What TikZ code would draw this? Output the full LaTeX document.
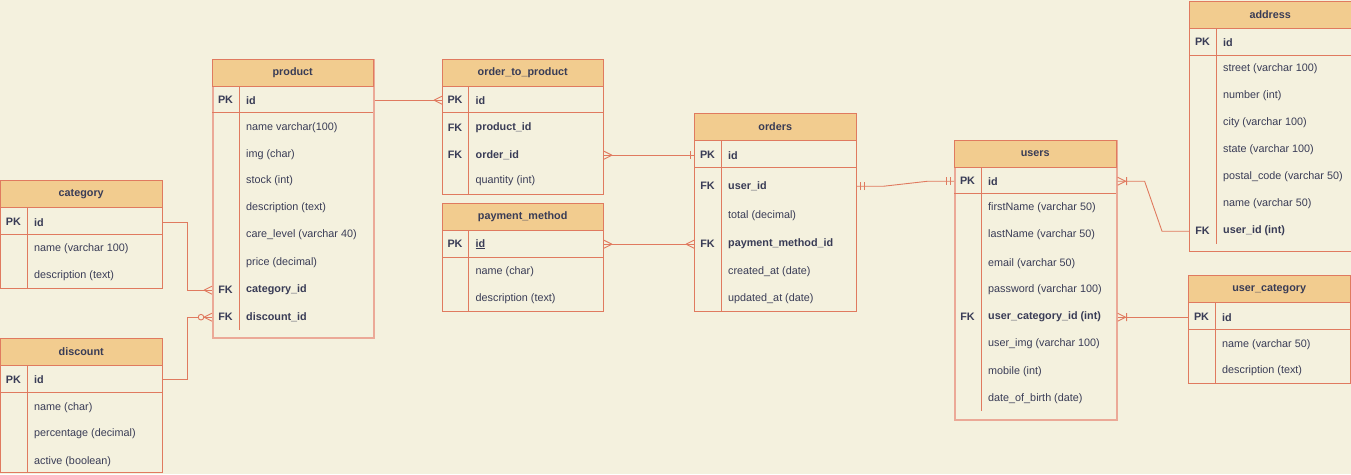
\documentclass[tikz,border=0pt]{standalone}
\usepackage{fontspec}
\setmainfont{Liberation Sans}
\usepackage{xcolor}
\usepackage{tikz}
\usetikzlibrary{positioning, calc}

\definecolor{paper}{HTML}{F4F1DE}
\definecolor{salmon}{HTML}{E07A5F}
\definecolor{sand}{HTML}{F2CC8F}
\definecolor{ink}{HTML}{393C56}

\begin{document}
\begin{tikzpicture}
	[
		x=1pt, y=-1pt,
		font=\fontsize{10.8}{12}\selectfont,
		entity/.style={draw=salmon, line width=0.9pt, anchor=north west, inner sep=0pt, minimum width=162pt},
		heavy/.style={draw=salmon!65, line width=1.6pt},
		title/.style={draw=salmon, fill=sand, anchor=north west, inner sep=0pt, minimum width=162pt, minimum height=27pt, text=ink, font=\fontsize{10.8}{12}\selectfont\bfseries},
		key/.style={text=ink, inner sep=0pt, yshift=-1.2pt, font=\fontsize{10.8}{12}\selectfont\bfseries},
		field/.style={anchor=west, inner sep=0pt, yshift=-1.2pt, text=ink},
		rule/.style={draw=salmon, line width=0.9pt},
		link/.style={draw=salmon, line width=0.9pt},
		crow/.pic={\draw[link] (-8,0) -- (0,-4) (-8,0) -- (0,4);},
		zcrow/.pic={\draw[link] (-8,0) -- (0,-4) (-8,0) -- (0,4); \draw[link, fill=paper] (-11,0) circle (2.8);},
		one/.pic={\draw[link] (-4,-4) -- (-4,4);},
		oneone/.pic={\draw[link] (-4,-4) -- (-4,4) (-7.5,-4) -- (-7.5,4);},
		onemany/.pic={\draw[link] (-8,0) -- (0,-4) (-8,0) -- (0,4) (-9,-4) -- (-9,4);}
	]
	\useasboundingbox (0,0) rectangle (1351,474);
	\fill[paper] (0,0) rectangle (1351,474);

	% category
	\node[entity, minimum height=108pt] (category) at (0,180) {};
	\node[title] (category-t) at (category.north west) {category};
	\draw[rule] ([yshift=-27pt]category-t.south west) -- ([yshift=-27pt]category-t.south east);
	\draw[rule] ([xshift=27pt]category-t.south west) -- ([xshift=27pt]category.south west);
	\foreach \y/\k/\f/\n in {221/PK/\textbf{id}/id, 248//name (varchar 100)/name, 275//description (text)/desc}
		{\node[key] (category-\n-k) at (13.5,\y) {\k}; \node[field] (category-\n) at (34,\y) {\f};}

	% discount
	\node[entity, minimum height=134pt] (discount) at (0,338) {};
	\node[title] (discount-t) at (discount.north west) {discount};
	\draw[rule] ([yshift=-27pt]discount-t.south west) -- ([yshift=-27pt]discount-t.south east);
	\draw[rule] ([xshift=27pt]discount-t.south west) -- ([xshift=27pt]discount.south west);
	\foreach \y/\k/\f/\n in {378.5/PK/\textbf{id}/id, 406//name (char)/name, 433//percentage (decimal)/perc, 460//active (boolean)/active}
		{\node[key] (discount-\n-k) at (13.5,\y) {\k}; \node[field] (discount-\n) at (34,\y) {\f};}

	% product
	\node[entity, heavy, minimum width=161pt, minimum height=278pt] (product) at (212,59) {};
	\node[title, minimum width=161pt] (product-t) at (product.north west) {product};
	\draw[rule] ([yshift=-26pt]product-t.south west) -- ([yshift=-26pt]product-t.south east);
	\draw[rule] ([xshift=27pt]product-t.south west) -- ([xshift=27pt,yshift=9pt]product.south west);
	\foreach \y/\k/\f/\n in {99/PK/\textbf{id}/id, 127//name varchar(100)/name, 154//img (char)/img, 180//stock (int)/stock,
		207//description (text)/desc, 234//care\_level (varchar 40)/care, 262//price (decimal)/price,
		289/FK/\textbf{category\_id}/category, 316/FK/\textbf{discount\_id}/discount}
		{\node[key] (product-\n-k) at (225.5,\y) {\k}; \node[field] (product-\n) at (246,\y) {\f};}

	% order_to_product
	\node[entity, minimum width=161pt, minimum height=135pt] (orderprod) at (442,59) {};
	\node[title, minimum width=161pt] (orderprod-t) at (orderprod.north west) {order\_to\_product};
	\draw[rule] ([yshift=-26pt]orderprod-t.south west) -- ([yshift=-26pt]orderprod-t.south east);
	\draw[rule] ([xshift=26pt]orderprod-t.south west) -- ([xshift=26pt]orderprod.south west);
	\foreach \y/\k/\f/\n in {99/PK/\textbf{id}/id, 127/FK/\textbf{product\_id}/product, 154/FK/\textbf{order\_id}/order, 180//quantity (int)/qty}
		{\node[key] (orderprod-\n-k) at (455,\y) {\k}; \node[field] (orderprod-\n) at (475.5,\y) {\f};}

	% payment_method
	\node[entity, minimum width=161pt, minimum height=108pt] (payment) at (442,203) {};
	\node[title, minimum width=161pt] (payment-t) at (payment.north west) {payment\_method};
	\draw[rule] ([yshift=-27pt]payment-t.south west) -- ([yshift=-27pt]payment-t.south east);
	\draw[rule] ([xshift=26pt]payment-t.south west) -- ([xshift=26pt]payment.south west);
	\foreach \y/\k/\f/\n in {243/PK/\underline{\textbf{id}}/id, 271//name (char)/name, 298//description (text)/desc}
		{\node[key] (payment-\n-k) at (455,\y) {\k}; \node[field] (payment-\n) at (475.5,\y) {\f};}

	% orders
	\node[entity, minimum height=198pt] (orders) at (694,113) {};
	\node[title] (orders-t) at (orders.north west) {orders};
	\draw[rule] ([yshift=-27pt]orders-t.south west) -- ([yshift=-27pt]orders-t.south east);
	\draw[rule] ([xshift=27pt]orders-t.south west) -- ([xshift=27pt]orders.south west);
	\foreach \y/\k/\f/\n in {154/PK/\textbf{id}/id, 185/FK/\textbf{user\_id}/user, 215//total (decimal)/total,
		243/FK/\textbf{payment\_method\_id}/payment, 271//created\_at (date)/created, 298//updated\_at (date)/updated}
		{\node[key] (orders-\n-k) at (707.5,\y) {\k}; \node[field] (orders-\n) at (728,\y) {\f};}

	% users
	\node[entity, heavy, minimum width=162pt, minimum height=279pt] (users) at (954,140) {};
	\node[title] (users-t) at (users.north west) {users};
	\draw[rule] ([yshift=-26pt]users-t.south west) -- ([yshift=-26pt]users-t.south east);
	\draw[rule] ([xshift=27pt]users-t.south west) -- ([xshift=27pt,yshift=10pt]users.south west);
	\foreach \y/\k/\f/\n in {180/PK/\textbf{id}/id, 207//firstName (varchar 50)/first, 234//lastName (varchar 50)/last,
		262//email (varchar 50)/email, 289//password (varchar 100)/pass, 316/FK/\textbf{user\_category\_id (int)}/category,
		343//user\_img (varchar 100)/img, 370//mobile (int)/mobile, 397//date\_of\_birth (date)/birth}
		{\node[key] (users-\n-k) at (967.5,\y) {\k}; \node[field] (users-\n) at (988,\y) {\f};}

	% address
	\node[entity, minimum height=250pt] (address) at (1189,1) {};
	\node[title] (address-t) at (address.north west) {address};
	\draw[rule] ([yshift=-27pt]address-t.south west) -- ([yshift=-27pt]address-t.south east);
	\draw[rule] ([xshift=27pt]address-t.south west) -- ([xshift=27pt,yshift=8pt]address.south west);
	\foreach \y/\k/\f/\n in {41/PK/\textbf{id}/id, 68//street (varchar 100)/street, 95//number (int)/number,
		122//city (varchar 100)/city, 149//state (varchar 100)/state, 176//postal\_code (varchar 50)/postal,
		203//name (varchar 50)/name, 230/FK/\textbf{user\_id (int)}/user}
		{\node[key] (address-\n-k) at (1202.5,\y) {\k}; \node[field] (address-\n) at (1223,\y) {\f};}

	% user_category
	\node[entity, minimum height=108pt] (usercat) at (1188,275) {};
	\node[title] (usercat-t) at (usercat.north west) {user\_category};
	\draw[rule] ([yshift=-27pt]usercat-t.south west) -- ([yshift=-27pt]usercat-t.south east);
	\draw[rule] ([xshift=27pt]usercat-t.south west) -- ([xshift=27pt]usercat.south west);
	\foreach \y/\k/\f/\n in {316/PK/\textbf{id}/id, 343//name (varchar 50)/name, 370//description (text)/desc}
		{\node[key] (usercat-\n-k) at (1201.5,\y) {\k}; \node[field] (usercat-\n) at (1222,\y) {\f};}

	% relations
	\draw[link] (category.east |- category-id) -- ++(25,0) |- (product.west |- product-category) pic{crow};
	\draw[link] (discount.east |- discount-id) -- ++(25,0) |- (product.west |- product-discount) pic{zcrow};
	\draw[link] (product.east |- product-id) -- (orderprod.west |- orderprod-id) pic{crow};
	\draw[link] (orderprod.east |- orderprod-order) pic[rotate=180]{crow} -- (orders.west |- orders-id) pic{one};
	\draw[link] (payment.east |- payment-id) pic[rotate=180]{crow} -- (orders.west |- orders-payment) pic{crow};
	\draw[link] (orders.east |- orders-user) pic[rotate=180]{oneone} -- ++(27,0)
		-- ([xshift=-26pt]users.west |- users-id) -- (users.west |- users-id) pic{oneone};
	\draw[link] (users.east |- users-id) pic[rotate=180]{onemany} -- ++(27,0)
		-- ([xshift=-27pt]address.west |- address-user) -- (address.west |- address-user);
	\draw[link] (users.east |- users-category) pic[rotate=180]{onemany} -- (usercat.west |- usercat-id);
\end{tikzpicture}
\end{document}
